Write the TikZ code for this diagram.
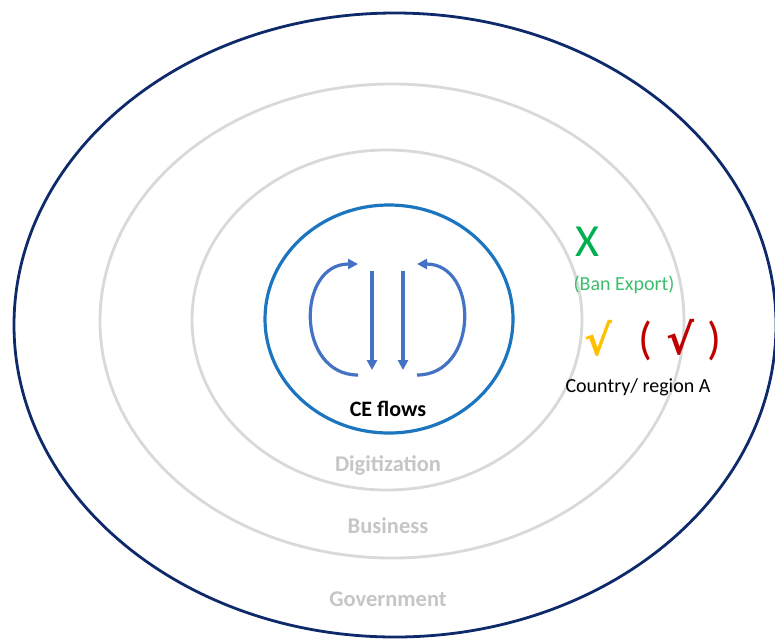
\documentclass[tikz,border=0pt]{standalone}
\usepackage{fontspec}
\setmainfont{Carlito}
\newfontfamily\dejavu{DejaVu Sans}
\usetikzlibrary{arrows.meta}
\definecolor{navyring}{HTML}{0E2A6A}
\definecolor{ringgray}{HTML}{D9D9D9}
\definecolor{labgray}{HTML}{C6C6C6}
\definecolor{ceblue}{HTML}{1B75BF}
\definecolor{arrowblue}{HTML}{4472C4}
\definecolor{bangreen}{HTML}{00B050}
\definecolor{banlight}{HTML}{3DBE6E}
\definecolor{okorange}{HTML}{FFC000}
\definecolor{okred}{HTML}{C00000}
\tikzset{
  ring/.style={line width=2.8pt, ringgray},
  flow/.style={line width=3.2pt, arrowblue, -{Triangle[length=10pt,width=10pt]}},
  ringlabel/.style={font=\fontsize{22.5}{24}\selectfont\bfseries, text=labgray, inner sep=0pt},
}
\begin{document}
\begin{tikzpicture}[x=1pt,y=-1pt]
\useasboundingbox (0,0) rectangle (775,638);
\fill[white] (0,0) rectangle (775,638);
% rings
\draw[navyring, line width=2.8pt] (395,325) ellipse [x radius=381, y radius=312];
\draw[ring] (392,321) ellipse [x radius=292, y radius=237];
\draw[ring] (387,320) ellipse [x radius=195, y radius=170];
\draw[ceblue, line width=3.2pt] (389,319) ellipse [x radius=124, y radius=114];
% flows
\coordinate (la) at (358,375); \coordinate (lb) at (358,264);
\coordinate (ra) at (417,375); \coordinate (rb) at (417,264);
\coordinate (d1a) at (372,271); \coordinate (d1b) at (372,370);
\coordinate (d2a) at (403,271); \coordinate (d2b) at (403,370);
\draw[flow] (la) .. controls (296,375) and (296,264) .. (lb);
\draw[flow] (ra) .. controls (479,375) and (479,264) .. (rb);
\draw[flow] (d1a) -- (d1b);
\draw[flow] (d2a) -- (d2b);
% labels
\node[font=\fontsize{22}{24}\selectfont\bfseries, inner sep=0pt] (ce) at (388,409) {CE flows};
\node[ringlabel] (dig) at (388,465) {Digitization};
\node[ringlabel] (bus) at (388,526) {Business};
\node[ringlabel] (gov) at (388,599) {Government};
% right side
\node[font=\fontsize{46}{48}\selectfont, text=bangreen, inner sep=0pt] (x) at (587,242) {X};
\node[font=\fontsize{20}{22}\selectfont, text=banlight, inner sep=0pt] (ban) at (624,285) {(Ban Export)};
\node[font=\dejavu\bfseries\fontsize{42}{44}\selectfont, text=okorange, inner sep=0pt] (ok1) at (598,338) {√};
\node[font=\fontsize{46}{48}\selectfont, text=okred, inner sep=0pt] (ok2) at (680,340) {(\hspace{0.3em}{\dejavu\bfseries\fontsize{42}{44}\selectfont √}\hspace{0.3em})};
\node[font=\fontsize{20}{22}\selectfont, inner sep=0pt] (ctry) at (638,387) {Country/ region A};
\end{tikzpicture}
\end{document}
